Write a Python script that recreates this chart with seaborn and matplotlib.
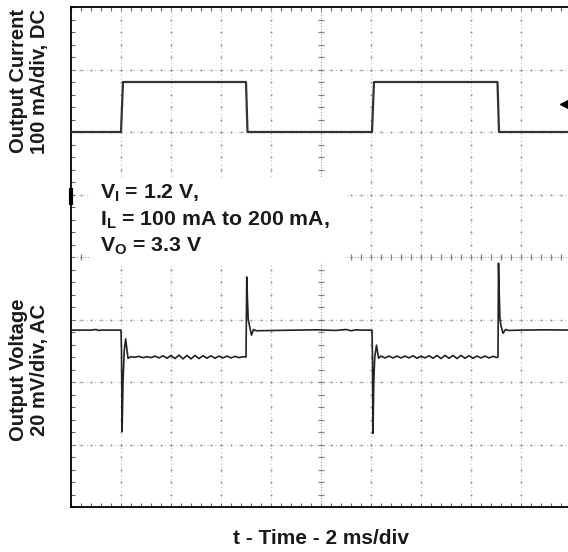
import numpy as np
import pandas as pd
import matplotlib
matplotlib.use("Agg")
import matplotlib.pyplot as plt
import seaborn as sns
from matplotlib.patches import Rectangle

# ---- data (oscilloscope divisions: x 0..10 div, y -4..4 div) ----
cur_t = [0.0, 1.00, 1.04, 3.50, 3.53, 6.02, 6.06, 8.53, 8.56, 10.0]
cur_v = [2.0, 2.0, 2.8, 2.8, 2.0, 2.0, 2.8, 2.8, 2.0, 2.0]

volt_t = [0.0, 0.40, 0.50, 0.55, 0.60, 1.00,
          1.010, 1.022, 1.040, 1.065, 1.093, 1.140,
          1.20, 1.28, 1.36, 1.44, 1.52, 1.60, 1.68, 1.76, 1.84, 1.92,
          2.00, 2.08, 2.16, 2.24, 2.32, 2.40, 2.48, 2.56, 2.64, 2.72,
          2.80, 2.88, 2.96, 3.04, 3.12, 3.20, 3.28, 3.36, 3.44, 3.50,
          3.505, 3.515, 3.530, 3.545, 3.570, 3.610, 3.650, 3.700,
          4.50, 4.90, 5.30, 5.50, 5.60, 5.70, 5.80, 6.02,
          6.030, 6.040, 6.055, 6.075, 6.110, 6.150,
          6.20, 6.28, 6.36, 6.44, 6.52, 6.60, 6.68, 6.76, 6.84, 6.92,
          7.00, 7.08, 7.16, 7.24, 7.32, 7.40, 7.48, 7.56, 7.64, 7.72,
          7.80, 7.88, 7.96, 8.04, 8.12, 8.20, 8.28, 8.36, 8.44, 8.52,
          8.540, 8.550, 8.565, 8.580, 8.600, 8.640, 8.690, 8.750,
          9.00, 9.50, 10.0]
volt_v = [-1.17, -1.17, -1.16, -1.175, -1.17, -1.17,
          -1.50, -2.79, -2.00, -1.50, -1.31, -1.62,
          -1.595, -1.605, -1.59, -1.61, -1.595, -1.61, -1.585, -1.615, -1.58, -1.62,
          -1.575, -1.625, -1.57, -1.63, -1.575, -1.63, -1.575, -1.625, -1.58, -1.62,
          -1.58, -1.62, -1.585, -1.615, -1.585, -1.615, -1.59, -1.61, -1.595, -1.60,
          -1.20, -0.32, -0.70, -1.00, -1.10, -1.25, -1.16, -1.18,
          -1.17, -1.165, -1.175, -1.16, -1.18, -1.165, -1.17, -1.17,
          -1.60, -2.82, -2.00, -1.60, -1.41, -1.62,
          -1.585, -1.615, -1.585, -1.615, -1.585, -1.615, -1.585, -1.615, -1.58, -1.62,
          -1.585, -1.615, -1.58, -1.62, -1.575, -1.625, -1.575, -1.62, -1.575, -1.625,
          -1.575, -1.62, -1.58, -1.62, -1.585, -1.615, -1.585, -1.615, -1.59, -1.61,
          -1.60, -0.10, -0.60, -1.00, -1.10, -1.22, -1.16, -1.175,
          -1.17, -1.165, -1.17]

ann_lines = [r"$\mathbf{V_I}$ = 1.2 V,",
             r"$\mathbf{I_L}$ = 100 mA to 200 mA,",
             r"$\mathbf{V_O}$ = 3.3 V"]
ylab_top = "Output Current\n100 mA/div, DC"
ylab_bot = "Output Voltage\n20 mV/div, AC"
xlab = "t - Time - 2 ms/div"

# ---- style ----
sns.set_style("white")
plt.rcParams["font.family"] = ["Liberation Sans", "DejaVu Sans"]
plt.rcParams["mathtext.fontset"] = "custom"
plt.rcParams["mathtext.rm"] = "Liberation Sans"
plt.rcParams["mathtext.bf"] = "Liberation Sans:bold"
plt.rcParams["mathtext.it"] = "Liberation Sans:italic"

W, H = 568, 552
fig = plt.figure(figsize=(W / 100, H / 100), dpi=100)
fig.patch.set_facecolor("white")
ax = fig.add_axes([71 / W, 45 / H, 500 / W, 500 / H])
ax.set_xlim(0, 10)
ax.set_ylim(-4, 4)

# graticule
gcol = "#c4c4c4"
dcol = "#909090"
for gx in range(1, 10):
    if gx == 5:
        continue
    ax.axvline(gx, color=gcol, lw=0.8, ls=(0, (1, 2.5)), zorder=1)
    ax.plot(np.full(39, gx), np.arange(-3.8, 4.0, 0.2), ls="none", marker="o",
            ms=1.4, mew=0, color=dcol, zorder=1)
for gy in range(-3, 4):
    if gy == 0:
        continue
    ax.axhline(gy, color=gcol, lw=0.8, ls=(0, (1, 2.5)), zorder=1)
    ax.plot(np.arange(0.2, 10.0, 0.2), np.full(49, gy), ls="none", marker="o",
            ms=1.4, mew=0, color=dcol, zorder=1)
# center lines with cross ticks
ax.axvline(5, color="#a0a0a0", lw=0.8, ls=(0, (1, 1.5)), zorder=1)
ax.axhline(0, color="#a0a0a0", lw=0.8, ls=(0, (1, 1.5)), zorder=1)
ax.plot(np.full(39, 5.0), np.arange(-3.8, 4.0, 0.2), ls="none", marker="_",
        ms=5, mew=0.9, color="#808080", zorder=1)
ax.plot(np.arange(0.2, 10.0, 0.2), np.full(49, 0.0), ls="none", marker="|",
        ms=5, mew=0.9, color="#808080", zorder=1)

# edge ticks
ax.set_xticks(np.arange(0, 10.01, 0.2))
ax.set_yticks(np.arange(-4, 4.01, 0.2))
ax.tick_params(which="both", direction="in", length=3, width=0.8, color="#666666",
               bottom=True, top=True, left=True, right=False,
               labelbottom=False, labelleft=False)
for side in ["left", "top", "bottom"]:
    ax.spines[side].set_visible(True)
    ax.spines[side].set_color("black")
    ax.spines[side].set_linewidth(1.3)
ax.spines["right"].set_visible(False)

# annotation box
ax.add_patch(Rectangle((0.038, 0.488), 0.514, 0.17, transform=ax.transAxes,
                       facecolor="white", edgecolor="none", zorder=2))

# traces
df_cur = pd.DataFrame({"t": cur_t, "v": cur_v})
df_volt = pd.DataFrame({"t": volt_t, "v": volt_v})
sns.lineplot(data=df_cur, x="t", y="v", ax=ax, color="#333333", lw=1.6,
             estimator=None, sort=False, zorder=3)
sns.lineplot(data=df_volt, x="t", y="v", ax=ax, color="#222222", lw=1.2,
             estimator=None, sort=False, zorder=3)
ax.set_xlabel("")
ax.set_ylabel("")

# channel markers
ax.plot([0, 0], [0.83, 1.10], color="black", lw=3, clip_on=False, zorder=4,
        solid_capstyle="butt")
ax.plot([9.88], [2.45], marker="<", ms=7, color="black", ls="none", zorder=4)
ax.plot([9.88, 10.0], [2.45, 2.45], color="black", lw=1.2, zorder=4)

# texts
for txt, yy in zip(ann_lines, [0.616, 0.563, 0.510]):
    ax.text(0.059, yy, txt, transform=ax.transAxes, fontsize=15.3,
            fontweight="bold", va="baseline", ha="left", color="#1a1a1a", zorder=5)

fig.text(29 / W, 1 - 81 / H, ylab_top, rotation=90, ha="center", va="center",
         fontsize=14.5, fontweight="bold", color="#1a1a1a", linespacing=1.15,
         multialignment="center")
fig.text(29 / W, 1 - 370 / H, ylab_bot, rotation=90, ha="center", va="center",
         fontsize=14.5, fontweight="bold", color="#1a1a1a", linespacing=1.15,
         multialignment="center")
fig.text(321 / W, 1 - 539 / H, xlab, ha="center", va="center",
         fontsize=15, fontweight="bold", color="#1a1a1a")

fig.savefig("out.png", dpi=100, facecolor="white")
